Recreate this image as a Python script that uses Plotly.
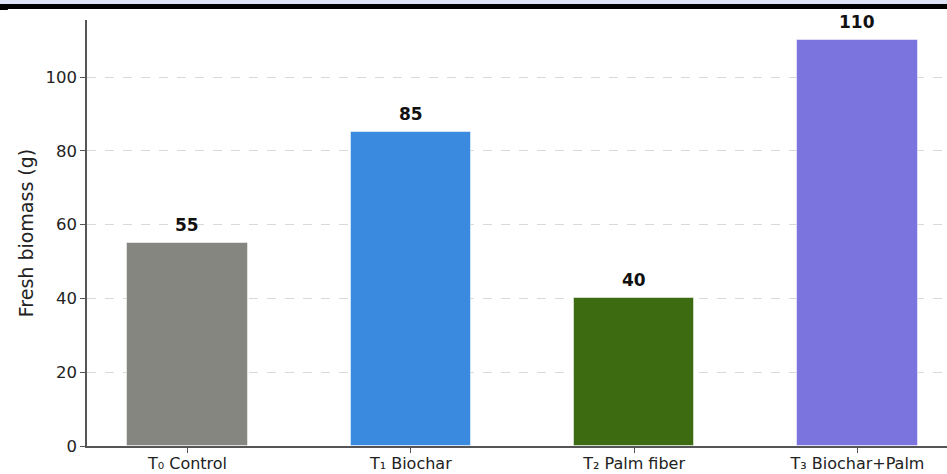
import plotly.graph_objects as go

# Treatments and fresh biomass (g)
treatments = ["T₀ Control", "T₁ Biochar", "T₂ Palm fiber", "T₃ Biochar+Palm"]
biomass = [55, 85, 40, 110]
bar_colors = ["#868680", "#3a8ae0", "#3d6b12", "#7b74de"]
y_ticks = [0, 20, 40, 60, 80, 100]

FONT = "DejaVu Sans"
x_pos = list(range(len(treatments)))

fig = go.Figure()
fig.add_trace(go.Bar(
    x=x_pos,
    y=biomass,
    width=0.54,
    marker=dict(color=bar_colors, line=dict(color="rgba(255,255,255,0.5)", width=1)),
    hoverinfo="x+y",
))

# value labels above each bar
for xi, v in zip(x_pos, biomass):
    fig.add_annotation(
        x=xi, y=v, text=f"<b>{v}</b>", showarrow=False,
        yanchor="bottom", yshift=6,
        font=dict(family=FONT, size=17, color="#111111"),
    )

# band across the top edge of the page
fig.add_shape(type="rect", xref="paper", yref="paper",
              x0=-0.102, x1=1.01, y0=1.0376, y1=1.06,
              fillcolor="#dde4f5", line=dict(width=0), layer="above")
fig.add_shape(type="rect", xref="paper", yref="paper",
              x0=-0.102, x1=1.01, y0=1.0258, y1=1.0376,
              fillcolor="#000000", line=dict(width=0), layer="above")
fig.add_shape(type="rect", xref="paper", yref="paper",
              x0=-0.102, x1=-0.092, y0=1.0235, y1=1.0258,
              fillcolor="#000000", line=dict(width=0), layer="above")

fig.update_layout(
    width=947, height=474,
    margin=dict(l=87, r=0, t=20, b=28),
    plot_bgcolor="white", paper_bgcolor="white",
    showlegend=False,
    bargap=0,
    font=dict(family=FONT, color="#222222"),
    xaxis=dict(
        range=[-0.45, 3.401],
        automargin=False,
        tickmode="array", tickvals=x_pos, ticktext=treatments,
        tickfont=dict(family=FONT, size=16, color="#222222"),
        ticklabelstandoff=-3,
        showgrid=False, zeroline=False,
        showline=True, linecolor="#555555", linewidth=1.5,
        ticks="outside", ticklen=5, tickcolor="#555555", tickwidth=1.2,
    ),
    yaxis=dict(
        range=[0, 115.5],
        automargin=False,
        tickmode="array", tickvals=y_ticks,
        tickfont=dict(family=FONT, size=16.5, color="#222222"),
        title=dict(text="Fresh biomass (g)", font=dict(family=FONT, size=19, color="#222222"), standoff=7),
        showgrid=True, gridcolor="#d9d9d9", griddash="dash", gridwidth=1,
        zeroline=False,
        showline=True, linecolor="#555555", linewidth=1.5,
        ticks="outside", ticklen=5, tickcolor="#555555", tickwidth=1.2,
    ),
)

fig.write_html("out.html")
